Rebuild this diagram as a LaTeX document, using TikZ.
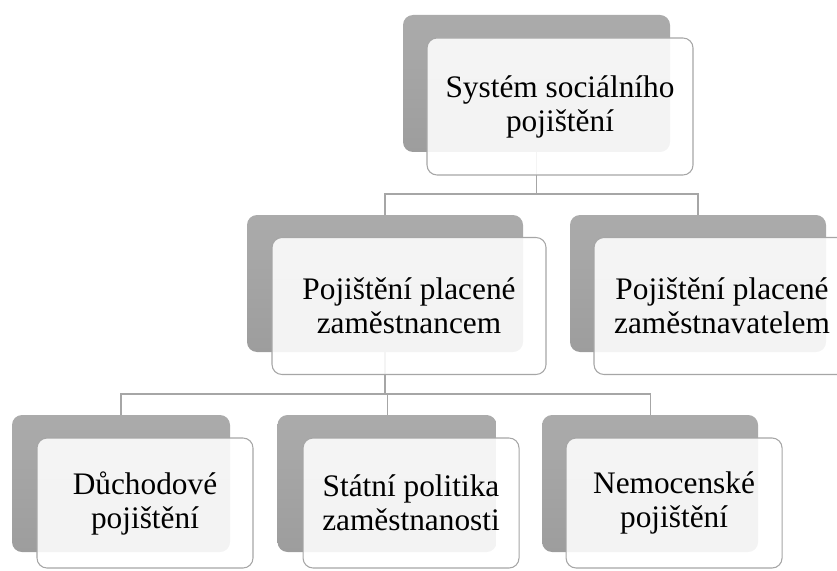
\documentclass[tikz,border=0pt]{standalone}
\usepackage{fontspec}
\setmainfont{Liberation Serif}
\usetikzlibrary{positioning}
\definecolor{backtop}{HTML}{ABABAB}
\definecolor{backbot}{HTML}{9D9D9D}
\definecolor{edgegray}{HTML}{A6A6A6}

\begin{document}
\begin{tikzpicture}[
  x = 0.75pt, y = -0.75pt,
  back/.style  = {rectangle, rounded corners=7.5pt, top color=backtop,
                  bottom color=backbot, minimum height=102.75pt, inner sep=0pt},
  front/.style = {rectangle, rounded corners=7.5pt, draw=edgegray, line width=0.8pt,
                  fill=white, fill opacity=0.88, text opacity=1, align=center,
                  minimum height=102.75pt, inner sep=0pt,
                  font=\fontsize{23.5}{25.5}\selectfont},
  conn/.style  = {draw=edgegray, line width=0.8pt}
]
\useasboundingbox (0,0) rectangle (837,570);

% ───────── back boxes ─────────
\node[back, minimum width=200.25pt] (tb) at (536.5,83.5) {};
\node[back, minimum width=207pt]    (ml) at (385,283.5)  {};
\node[back, minimum width=192pt]    (mr) at (698,283.5)  {};
\node[back, minimum width=163.5pt]  (dl) at (121,483.5)  {};
\node[back, minimum width=164.25pt, right=35.25pt of dl] (dm) {};
\node[back, minimum width=162pt,    right=33.75pt of dm] (dr) {};

% ───────── connectors ─────────
\coordinate (j1) at (536.5,194);
\coordinate (j2) at (385,394);
\draw[conn] (tb.south) -- (j1);
\draw[conn] (j1) -| (ml.north);
\draw[conn] (j1) -| (mr.north);
\draw[conn] (ml.south) -- (j2);
\draw[conn] (j2) -| (dl.north);
\draw[conn] (j2) -| (dm.north);
\draw[conn] (j2) -| (dr.north);

% ───────── front boxes ─────────
\node[front, minimum width=199.5pt] (tf) at ([shift={(23.5,23)}]tb.center)
  {Systém sociálního\\pojištění};
\node[front, minimum width=205.5pt] (mlf) at ([shift={(24,22.5)}]ml.center)
  {Pojištění placené\\zaměstnancem};
\node[front, minimum width=192pt] (mrf) at ([shift={(24,22.5)}]mr.center)
  {Pojištění placené\\zaměstnavatelem};
\node[front, minimum width=162pt, minimum height=97.5pt] (dlf) at ([shift={(24,19.5)}]dl.center)
  {Důchodové\\pojištění};
\node[front, minimum width=162pt, minimum height=97.5pt] (dmf) at ([shift={(24,19.5)}]dm.center)
  {Státní politika\\zaměstnanosti};
\node[front, minimum width=162pt, minimum height=97.5pt] (drf) at ([shift={(24,19.5)}]dr.center)
  {Nemocenské\\pojištění};

\end{tikzpicture}
\end{document}
